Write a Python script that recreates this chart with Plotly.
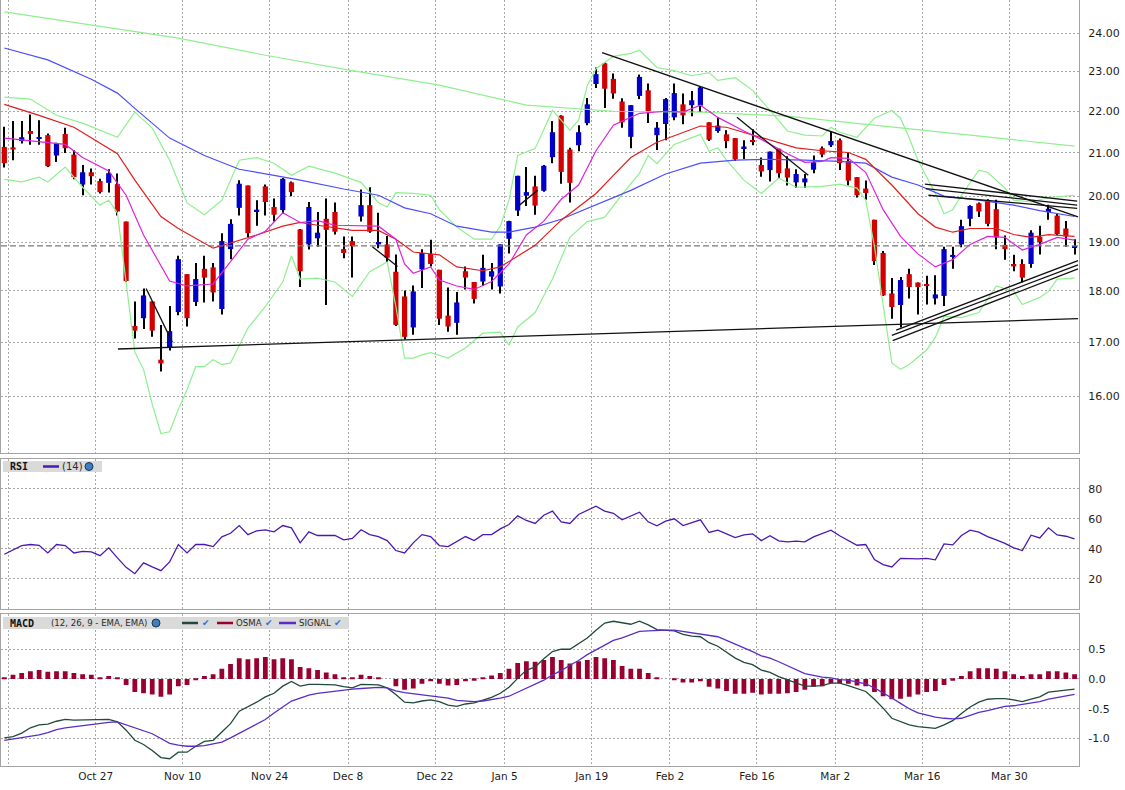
import math
import plotly.graph_objects as go

# ------------------------------------------------------------------ data
idx = list(range(124))

opens = [21.14, 21.13, 21.28, 21.52, 21.33, 21.42, 20.94, 21.45, 20.96, 20.27,
         20.55, 20.35, 20.31, 20.28, 19.45, 17.31, 17.46, 17.79, 16.67, 16.90,
         17.58, 18.34, 17.78, 18.45, 18.48, 17.64, 18.86, 19.75, 20.25, 19.67,
         20.23, 19.77, 19.70, 20.32, 19.28, 18.96, 19.09, 19.51, 19.66, 18.86,
         19.03, 19.56, 19.81, 18.96, 18.96, 18.39, 17.89, 17.28, 18.44, 18.76,
         18.43, 17.51, 17.37, 18.40, 18.18, 18.19, 18.29, 18.09, 19.08, 19.69,
         20.02, 20.23, 20.13, 20.90, 21.89, 21.08, 21.18, 21.71, 22.68, 23.21,
         22.81, 22.24, 21.38, 22.38, 22.52, 21.42, 21.69, 21.85, 22.17, 22.15,
         22.14, 21.73, 21.52, 21.44, 21.35, 21.11, 21.30, 20.72, 20.60, 21.10,
         20.64, 20.32, 20.32, 20.61, 21.11, 21.18, 21.30, 20.81, 20.44, 20.18,
         19.49, 18.78, 17.95, 17.72, 18.34, 18.17, 18.14, 17.85, 17.90, 18.70,
         18.96, 19.51, 19.85, 19.90, 19.72, 18.95, 18.55, 18.55, 18.55, 19.12,
         19.66, 19.58, 19.30, 18.89]
highs = [21.62, 21.76, 21.76, 21.92, 21.78, 21.46, 21.24, 21.60, 21.06, 20.72,
         20.64, 20.40, 20.62, 20.52, 19.45, 17.79, 18.05, 17.79, 17.33, 17.70,
         18.72, 18.34, 18.57, 18.72, 18.57, 19.20, 19.50, 20.37, 20.25, 19.92,
         20.27, 19.96, 20.42, 20.34, 19.29, 19.88, 19.66, 19.96, 19.87, 19.13,
         19.13, 20.16, 20.21, 19.64, 19.14, 18.75, 18.01, 18.11, 18.86, 19.06,
         18.43, 18.07, 17.98, 18.50, 18.18, 18.74, 18.57, 18.96, 19.47, 20.47,
         20.67, 20.47, 20.72, 21.76, 21.90, 21.12, 21.66, 22.33, 23.10, 23.23,
         22.95, 22.32, 22.15, 22.92, 22.69, 21.74, 22.33, 22.69, 22.44, 22.50,
         22.62, 21.73, 21.86, 21.54, 21.35, 21.30, 21.56, 20.89, 21.03, 21.10,
         20.92, 20.62, 20.51, 20.94, 21.15, 21.50, 21.34, 21.01, 20.44, 20.36,
         19.49, 18.82, 18.26, 18.28, 18.45, 18.17, 18.31, 18.32, 18.91, 18.91,
         19.49, 19.81, 19.87, 19.94, 19.93, 19.15, 18.74, 18.65, 19.26, 19.36,
         19.82, 19.62, 19.46, 19.07]
lows = [20.66, 20.83, 21.22, 21.19, 21.19, 20.67, 20.79, 21.00, 20.39, 20.03,
        20.27, 20.07, 20.09, 19.58, 18.18, 17.07, 17.25, 17.10, 16.45, 16.84,
        17.52, 17.30, 17.70, 17.77, 17.79, 17.53, 18.65, 19.58, 19.12, 19.36,
        19.58, 19.45, 19.62, 20.01, 18.08, 18.85, 18.91, 17.72, 19.17, 18.67,
        18.27, 19.45, 19.21, 18.88, 18.59, 17.31, 17.05, 17.14, 18.06, 18.50,
        17.33, 17.20, 17.14, 18.03, 17.75, 18.10, 18.03, 17.95, 18.77, 19.57,
        19.79, 19.60, 20.11, 20.76, 20.29, 19.87, 21.04, 21.66, 22.58, 22.08,
        22.31, 21.60, 21.11, 22.30, 21.71, 21.07, 21.30, 21.78, 21.68, 21.88,
        21.98, 21.28, 21.48, 21.11, 20.81, 20.86, 21.18, 20.45, 20.34, 20.40,
        20.25, 20.19, 20.19, 20.53, 20.90, 21.14, 20.60, 20.25, 19.98, 19.93,
        18.53, 17.90, 17.45, 17.28, 17.85, 17.53, 17.73, 17.73, 17.70, 18.45,
        18.90, 19.35, 19.55, 19.35, 18.86, 18.64, 18.40, 18.17, 18.47, 18.75,
        19.49, 19.16, 18.91, 18.75]
closes = [20.76, 21.08, 21.37, 21.45, 21.37, 20.69, 21.22, 21.11, 20.44, 20.55,
          20.46, 20.10, 20.53, 19.67, 18.20, 17.22, 17.91, 17.22, 16.60, 17.21,
          18.65, 17.46, 18.24, 18.27, 17.97, 19.03, 19.40, 20.29, 19.20, 19.71,
          19.88, 19.60, 20.40, 20.10, 18.40, 19.77, 19.21, 19.27, 19.23, 18.78,
          18.92, 19.81, 19.23, 19.01, 18.68, 17.33, 17.10, 17.99, 18.78, 18.55,
          17.45, 17.30, 17.77, 18.27, 17.84, 18.47, 18.40, 18.96, 19.46, 20.47,
          20.10, 19.80, 20.70, 21.49, 20.56, 20.31, 21.49, 22.17, 22.93, 22.56,
          22.44, 21.73, 22.15, 22.86, 21.98, 21.60, 22.30, 22.45, 21.90, 22.27,
          22.59, 21.31, 21.65, 21.28, 20.85, 21.15, 21.26, 20.57, 21.03, 20.53,
          20.43, 20.51, 20.41, 20.78, 20.96, 21.28, 20.76, 20.36, 20.03, 20.08,
          18.61, 17.91, 17.68, 18.22, 18.08, 18.08, 18.10, 17.93, 18.86, 18.74,
          19.35, 19.79, 19.67, 19.40, 19.11, 18.86, 18.50, 18.27, 19.21, 19.01,
          19.73, 19.18, 19.13, 18.92]

# moving averages / bands (readings at selected bars)
ma_blue_x = [0, 5, 10, 13, 15, 19, 23, 27, 31, 34, 39, 43, 46, 49, 52, 56, 58, 61, 64, 68,
             72, 76, 80, 84, 88, 92, 96, 99, 102, 105, 108, 112, 116, 119, 121, 123]
ma_blue_y = [23.61, 23.30, 22.80, 22.45, 22.07, 21.35, 20.94, 20.62, 20.48, 20.37, 20.17,
             20.03, 19.75, 19.62, 19.35, 19.22, 19.22, 19.33, 19.50, 19.82, 20.14, 20.51,
             20.76, 20.83, 20.85, 20.83, 20.80, 20.76, 20.44, 20.26, 20.01, 19.92, 19.81,
             19.69, 19.62, 19.56]

ma_red_x = [0, 4, 8, 11, 13, 15, 18, 20, 24, 26, 29, 32, 34, 36, 40, 43, 45, 47, 50, 52,
            55, 57, 59, 61, 64, 68, 70, 72, 75, 78, 80, 83, 87, 91, 94, 97, 99, 102, 105,
            107, 109, 111, 114, 116, 118, 120, 123]
ma_red_y = [22.17, 21.90, 21.61, 21.23, 20.98, 20.37, 19.56, 19.30, 18.88, 18.99, 19.16,
            19.35, 19.43, 19.37, 19.26, 19.26, 19.07, 18.80, 18.74, 18.49, 18.41, 18.49,
            18.72, 18.94, 19.48, 20.07, 20.48, 20.89, 21.25, 21.49, 21.64, 21.61, 21.37,
            21.12, 21.05, 21.01, 20.85, 20.26, 19.62, 19.33, 19.22, 19.30, 19.30, 19.17,
            19.11, 19.17, 19.13]

ma_mag_x = [0, 4, 7, 9, 12, 14, 16, 19, 21, 24, 26, 28, 30, 32, 34, 36, 38, 41, 43, 45,
            46, 47, 49, 50, 52, 54, 56, 58, 60, 62, 64, 66, 68, 70, 73, 76, 78, 80, 82, 85,
            87, 90, 92, 94, 95, 97, 99, 101, 103, 105, 107, 109, 111, 113, 115, 117, 119,
            121, 123]
ma_mag_y = [21.35, 21.27, 21.20, 20.89, 20.58, 20.03, 19.16, 18.20, 18.10, 18.14, 18.61,
            19.07, 19.24, 19.64, 19.43, 19.47, 19.37, 19.35, 19.35, 19.07, 18.55, 18.36,
            18.49, 18.22, 18.10, 18.03, 18.19, 18.55, 19.16, 19.46, 19.94, 20.26, 21.05,
            21.66, 21.95, 22.00, 21.98, 22.15, 21.85, 21.52, 21.32, 20.98, 20.78, 20.80,
            20.89, 20.87, 20.55, 19.71, 19.13, 18.76, 18.49, 18.64, 18.96, 19.13, 19.11,
            18.84, 18.96, 19.11, 19.05]

band_up_x = [0, 3, 6, 9, 13, 15, 17, 19, 21, 23, 25, 27, 29, 31, 33, 35, 38, 41, 43, 44,
             45, 47, 49, 50, 52, 54, 56, 57, 58, 59, 61, 62, 63, 65, 66, 67, 68, 70, 72, 73,
             75, 77, 79, 81, 82, 84, 86, 88, 90, 92, 94, 95, 96, 98, 100, 102, 103, 104,
             105, 107, 108, 109, 110, 112, 113, 115, 116, 118, 120, 123]
band_up_y = [22.35, 22.30, 21.90, 21.71, 21.37, 21.98, 21.59, 20.83, 19.86, 19.60, 19.92,
             20.83, 20.89, 20.76, 20.48, 20.69, 20.53, 20.32, 19.86, 19.77, 20.09, 20.07,
             20.03, 19.71, 19.33, 19.07, 19.07, 19.35, 19.92, 20.94, 21.10, 21.54, 22.02,
             21.54, 21.78, 22.64, 23.07, 23.39, 23.47, 23.55, 23.10, 23.02, 22.89, 22.97,
             22.77, 22.84, 22.52, 22.02, 21.52, 21.42, 21.40, 21.61, 21.49, 21.37, 21.83,
             22.02, 21.83, 21.35, 20.83, 20.07, 19.62, 19.71, 20.03, 20.60, 20.55, 20.19,
             19.92, 19.88, 19.98, 20.03]

band_lo_x = [0, 2, 4, 5, 7, 9, 11, 12, 13, 14, 15, 16, 17, 18, 19, 20, 21, 22, 23, 24,
             25, 26, 28, 30, 32, 33, 34, 36, 38, 40, 42, 44, 45, 46, 47, 48, 49, 51, 53, 55,
             57, 58, 59, 61, 63, 65, 67, 69, 71, 73, 74, 75, 77, 80, 81, 82, 83, 85, 87, 89,
             91, 94, 96, 98, 99, 100, 101, 102, 103, 104, 106, 107, 108, 110, 112, 114, 116,
             117, 119, 120, 121, 123]
band_lo_y = [20.39, 20.33, 20.44, 20.33, 20.67, 20.21, 19.81, 19.92, 19.64, 18.18, 16.81,
             16.49, 15.86, 15.35, 15.38, 15.77, 16.12, 16.54, 16.54, 16.67, 16.58, 16.61,
             17.27, 17.69, 18.18, 18.72, 18.24, 18.26, 18.18, 17.89, 18.39, 18.59, 17.69,
             16.70, 16.70, 16.76, 16.80, 16.70, 16.89, 17.17, 17.19, 16.94, 17.29, 17.57,
             18.24, 19.11, 19.45, 19.54, 20.05, 20.53, 20.94, 20.75, 21.20, 21.44, 21.04,
             21.12, 20.83, 20.37, 20.07, 20.42, 20.21, 20.23, 20.28, 20.19, 19.92, 18.92,
             17.69, 16.61, 16.49, 16.58, 16.85, 17.09, 17.50, 17.47, 17.57, 18.10, 17.99,
             17.73, 17.87, 17.99, 18.24, 18.26]

ma_long_x = [0, 10, 20, 30, 40, 50, 60, 70, 80, 90, 100, 110, 123]
ma_long_y = [24.58, 24.22, 23.87, 23.42, 23.02, 22.65, 22.15, 22.00, 21.98, 21.88, 21.66,
             21.45, 21.16]

# hand-drawn trend lines (start bar, end bar, start price, end price)
tl_x0 = [13.06, 16.3, 42.3, 59.2, 68.7, 84.2, 105.8, 105.9, 106.2, 102.5, 102.0, 102.1]
tl_x1 = [123.4, 19.3, 45.2, 61.3, 123.4, 92.4, 123.3, 123.3, 123.3, 123.4, 123.4, 123.4]
tl_p0 = [16.87, 18.05, 18.91, 19.81, 23.49, 21.85, 20.28, 20.18, 20.03, 17.23, 17.13, 17.03]
tl_p1 = [17.45, 17.00, 18.50, 20.14, 19.55, 20.48, 19.90, 19.81, 19.74, 18.62, 18.53, 18.45]

ref_price = 18.93

rsi = [36.4, 39.5, 42.2, 42.9, 42.4, 37.3, 42.9, 42.2, 37.3, 38.4,
       38.0, 35.5, 40.7, 34.0, 27.7, 23.5, 30.7, 28.0, 25.5, 31.3,
       42.9, 37.3, 42.9, 42.9, 41.5, 48.0, 50.4, 55.5, 49.5, 52.0,
       52.7, 51.3, 55.5, 54.0, 44.0, 51.3, 48.9, 48.9, 48.9, 46.0,
       46.9, 52.7, 49.5, 48.2, 45.5, 38.9, 37.3, 44.0, 49.5, 48.2,
       42.2, 41.5, 45.1, 48.2, 45.5, 49.5, 49.5, 53.3, 56.2, 62.0,
       58.9, 56.9, 62.4, 65.1, 58.0, 56.9, 62.9, 65.5, 68.4, 65.1,
       63.7, 59.3, 61.7, 64.4, 58.0, 55.3, 58.4, 60.0, 55.5, 57.3,
       59.3, 50.9, 52.4, 50.0, 47.5, 49.3, 50.0, 45.5, 48.7, 45.3,
       44.7, 45.1, 44.7, 48.0, 50.0, 52.4, 48.7, 45.5, 42.4, 42.9,
       32.9, 29.5, 28.0, 33.7, 33.3, 33.3, 33.7, 32.7, 43.3, 42.7,
       48.9, 52.4, 51.1, 48.2, 46.0, 43.7, 40.7, 38.9, 49.1, 47.3,
       54.0, 49.3, 48.4, 46.7]

osma = [0.03, 0.07, 0.10, 0.13, 0.15, 0.12, 0.13, 0.13, 0.10, 0.08,
        0.07, 0.03, 0.05, 0.02, -0.10, -0.22, -0.24, -0.26, -0.30, -0.26,
        -0.12, -0.10, -0.01, 0.05, 0.08, 0.17, 0.25, 0.35, 0.33, 0.35,
        0.37, 0.33, 0.35, 0.33, 0.20, 0.18, 0.15, 0.11, 0.08, 0.03,
        0.02, 0.07, 0.05, 0.03, 0.00, -0.12, -0.18, -0.16, -0.08, -0.04,
        -0.08, -0.11, -0.10, -0.04, -0.03, 0.02, 0.06, 0.10, 0.17, 0.27,
        0.30, 0.29, 0.32, 0.37, 0.32, 0.26, 0.30, 0.32, 0.37, 0.35,
        0.32, 0.22, 0.17, 0.17, 0.10, 0.02, 0.00, -0.01, -0.06, -0.06,
        -0.04, -0.13, -0.16, -0.20, -0.25, -0.25, -0.23, -0.26, -0.25, -0.25,
        -0.24, -0.22, -0.18, -0.13, -0.12, -0.07, -0.07, -0.08, -0.11, -0.12,
        -0.22, -0.29, -0.34, -0.33, -0.30, -0.26, -0.22, -0.20, -0.10, -0.03,
        0.05, 0.13, 0.18, 0.18, 0.17, 0.13, 0.08, 0.05, 0.08, 0.08,
        0.13, 0.13, 0.11, 0.08]

macd = [-0.99, -0.97, -0.91, -0.82, -0.77, -0.76, -0.71, -0.68, -0.69, -0.69,
        -0.68, -0.69, -0.68, -0.72, -0.86, -1.03, -1.10, -1.20, -1.32, -1.34,
        -1.23, -1.23, -1.13, -1.05, -1.03, -0.89, -0.75, -0.54, -0.47, -0.39,
        -0.30, -0.24, -0.12, -0.04, -0.12, -0.09, -0.09, -0.09, -0.10, -0.13,
        -0.15, -0.09, -0.09, -0.10, -0.15, -0.26, -0.39, -0.40, -0.37, -0.35,
        -0.38, -0.44, -0.46, -0.42, -0.40, -0.36, -0.31, -0.24, -0.14, 0.01,
        0.15, 0.20, 0.34, 0.46, 0.50, 0.50, 0.59, 0.69, 0.82, 0.94,
        0.97, 0.94, 0.92, 0.97, 0.91, 0.83, 0.82, 0.81, 0.75, 0.72,
        0.71, 0.61, 0.55, 0.45, 0.35, 0.28, 0.24, 0.15, 0.11, 0.04,
        -0.01, -0.06, -0.12, -0.12, -0.11, -0.07, -0.07, -0.11, -0.16, -0.21,
        -0.34, -0.49, -0.66, -0.72, -0.77, -0.80, -0.82, -0.83, -0.77, -0.70,
        -0.58, -0.47, -0.39, -0.34, -0.33, -0.33, -0.35, -0.38, -0.34, -0.30,
        -0.22, -0.20, -0.18, -0.17]

signal = [-1.03, -1.01, -0.99, -0.96, -0.94, -0.90, -0.85, -0.82, -0.80, -0.78,
          -0.77, -0.75, -0.73, -0.72, -0.77, -0.81, -0.87, -0.92, -1.00, -1.08,
          -1.11, -1.13, -1.13, -1.12, -1.09, -1.06, -0.99, -0.91, -0.83, -0.76,
          -0.68, -0.57, -0.47, -0.37, -0.32, -0.27, -0.24, -0.22, -0.20, -0.18,
          -0.17, -0.16, -0.15, -0.14, -0.15, -0.20, -0.23, -0.25, -0.27, -0.29,
          -0.30, -0.32, -0.36, -0.37, -0.38, -0.37, -0.35, -0.32, -0.29, -0.22,
          -0.15, -0.08, -0.02, 0.07, 0.14, 0.23, 0.31, 0.41, 0.49, 0.58,
          0.65, 0.69, 0.74, 0.80, 0.81, 0.82, 0.82, 0.82, 0.80, 0.78,
          0.76, 0.73, 0.71, 0.65, 0.59, 0.53, 0.46, 0.39, 0.35, 0.29,
          0.22, 0.16, 0.09, 0.06, 0.03, 0.02, -0.01, -0.02, -0.05, -0.08,
          -0.15, -0.23, -0.32, -0.41, -0.50, -0.57, -0.61, -0.64, -0.66, -0.67,
          -0.66, -0.61, -0.56, -0.53, -0.49, -0.46, -0.45, -0.43, -0.40, -0.38,
          -0.34, -0.31, -0.29, -0.26]

tick_pos = [0.5, 10.5, 20.5, 30.5, 39.5, 49.5, 57.5, 67.5, 76.5, 86.5, 95.5, 105.5, 115.5]
tick_lab = ["", "Oct 27", "Nov 10", "Nov 24", "Dec 8", "Dec 22", "Jan 5", "Jan 19",
            "Feb 2", "Feb 16", "Mar 2", "Mar 16", "Mar 30"]
price_ticks = [16, 17, 18, 19, 20, 21, 22, 23, 24]
rsi_ticks = [20, 40, 60, 80]
macd_ticks = [-1.0, -0.5, 0.0, 0.5]

# ------------------------------------------------------------------ style
C_UP = "#0000c8"
C_DN = "#d20000"
C_BLUE = "#4d4dff"
C_RED = "#e21d1d"
C_MAG = "#dd22dd"
C_GRN = "#8ef08e"
C_RSI = "#4b18b0"
C_MACD = "#1f4a3c"
C_OSMA = "#990030"
C_SIG = "#5a2dc8"
GRID = "#a8a8a8"
FRAME = "#a4a4a4"

W, H = 1125, 790
ML, MR, MT, MB = 1, 46, 0, 24
PW, PH = W - ML - MR, H - MT - MB


def pxx(v):
    return (v - ML) / PW


def pxy(v):
    return (PH - (v - MT)) / PH


XR = [-0.38, 123.51]

fig = go.Figure()

# candles: wicks then bodies
fig.add_trace(go.Bar(x=idx, y=[h - l for h, l in zip(highs, lows)], base=lows, width=0.12,
                     marker=dict(color="#000000", line=dict(width=0)),
                     xaxis="x", yaxis="y", hoverinfo="skip", showlegend=False))
up_i = [i for i in idx if closes[i] >= opens[i]]
dn_i = [i for i in idx if closes[i] < opens[i]]
fig.add_trace(go.Bar(x=up_i, y=[closes[i] - opens[i] for i in up_i], base=[opens[i] for i in up_i],
                     width=0.6, marker=dict(color=C_UP, line=dict(width=0)),
                     xaxis="x", yaxis="y", hoverinfo="skip", showlegend=False))
fig.add_trace(go.Bar(x=dn_i, y=[opens[i] - closes[i] for i in dn_i], base=[closes[i] for i in dn_i],
                     width=0.6, marker=dict(color=C_DN, line=dict(width=0)),
                     xaxis="x", yaxis="y", hoverinfo="skip", showlegend=False))


def line(xs, ys, color, width=1.2, ax="", dash=None):
    fig.add_trace(go.Scatter(x=xs, y=ys, mode="lines",
                             line=dict(color=color, width=width, dash=dash),
                             xaxis="x" + ax, yaxis="y" + ax, hoverinfo="skip",
                             showlegend=False))


line(XR, [ref_price, ref_price], "#7a7a7a", 1.2, dash="6px,3px")
line(ma_long_x, ma_long_y, C_GRN, 1.2)
line(band_up_x, band_up_y, C_GRN, 1.2)
line(band_lo_x, band_lo_y, C_GRN, 1.2)
line(ma_blue_x, ma_blue_y, C_BLUE, 1.2)
line(ma_red_x, ma_red_y, C_RED, 1.2)
line(ma_mag_x, ma_mag_y, C_MAG, 1.2)
for a, b, p, q in zip(tl_x0, tl_x1, tl_p0, tl_p1):
    line([a, b], [p, q], "#111111", 1.3)

# RSI
line(idx, rsi, C_RSI, 1.3, ax="2")

# MACD
fig.add_trace(go.Bar(x=idx, y=osma, width=0.55, marker=dict(color=C_OSMA, line=dict(width=0)),
                     xaxis="x3", yaxis="y3", hoverinfo="skip", showlegend=False))
line(idx, macd, C_MACD, 1.3, ax="3")
line(idx, signal, C_SIG, 1.3, ax="3")

# ------------------------------------------------------------------ axes
tickfont = dict(family="DejaVu Sans", size=11, color="#1e1e1e")
xcommon = dict(range=XR, tickmode="array", tickvals=tick_pos, ticktext=tick_lab,
               showgrid=True, gridcolor=GRID, griddash="2px,2px", gridwidth=1,
               zeroline=False, showline=True, linecolor=FRAME, linewidth=1,
               ticks="", fixedrange=True)
ycommon = dict(side="right", showgrid=True, gridcolor=GRID, griddash="2px,2px", gridwidth=1,
               zeroline=False, showline=True, linecolor=FRAME, linewidth=1, mirror=True,
               ticks="outside", ticklen=6, tickcolor="rgba(0,0,0,0)", tickfont=tickfont,
               fixedrange=True)

main_dom = [pxy(453), 1.0]
rsi_dom = [pxy(609), pxy(458.7)]
macd_dom = [0.0, pxy(614.3)]

fig.update_layout(
    width=W, height=H,
    margin=dict(l=ML, r=MR, t=MT, b=MB, pad=0),
    paper_bgcolor="white", plot_bgcolor="white",
    barmode="overlay", showlegend=False,
    xaxis=dict(xcommon, domain=[0, 1], anchor="y", showticklabels=False),
    xaxis2=dict(xcommon, domain=[0, 1], anchor="y2", showticklabels=False, mirror=True, matches="x"),
    xaxis3=dict(xcommon, domain=[0, 1], anchor="y3", showticklabels=True, mirror=True, matches="x",
                tickfont=dict(family="DejaVu Sans", size=10.5, color="#1e1e1e")),
    yaxis=dict(ycommon, domain=main_dom, anchor="x", type="log",
               range=[math.log10(15.02), math.log10(24.91)],
               tickmode="array", tickvals=price_ticks,
               ticktext=["%.2f" % v for v in price_ticks]),
    yaxis2=dict(ycommon, domain=rsi_dom, anchor="x2", range=[0, 100],
                tickmode="array", tickvals=rsi_ticks, ticktext=[str(v) for v in rsi_ticks]),
    yaxis3=dict(ycommon, domain=macd_dom, anchor="x3", range=[-1.462, 1.087],
                tickmode="array", tickvals=macd_ticks, ticktext=["%.1f" % v for v in macd_ticks]),
)

# ------------------------------------------------------------------ indicator headers
shapes = []
annos = []


def rect(x0, x1, y0, y1, fill):
    shapes.append(dict(type="rect", xref="paper", yref="paper", x0=pxx(x0), x1=pxx(x1),
                       y0=pxy(y1), y1=pxy(y0), fillcolor=fill, line=dict(width=0), layer="above"))


def sample(x0, x1, y, color):
    shapes.append(dict(type="line", xref="paper", yref="paper", x0=pxx(x0), x1=pxx(x1),
                       y0=pxy(y), y1=pxy(y), line=dict(color=color, width=2.5), layer="above"))


def globe(x, y):
    shapes.append(dict(type="circle", xref="paper", yref="paper", x0=pxx(x - 4), x1=pxx(x + 4),
                       y0=pxy(y + 4), y1=pxy(y - 4), fillcolor="#3f7fbf",
                       line=dict(color="#1c3550", width=1), layer="above"))


def text(x, y, s, size=10, family="DejaVu Sans", color="#2a2a2a"):
    annos.append(dict(xref="paper", yref="paper", x=pxx(x), y=pxy(y), text=s, showarrow=False,
                      xanchor="left", yanchor="middle", borderpad=0,
                      font=dict(family=family, size=size, color=color)))


# RSI header
rect(3, 102, 461, 472, "#dadada")
text(9, 466.5, "<b>RSI</b>", 10, "DejaVu Sans Mono", "#111111")
sample(43, 59, 466.5, C_RSI)
text(61, 466.5, "(14)", 10)
globe(89, 466.5)

# MACD header
rect(3, 349, 617, 629, "#dadada")
text(9, 623, "<b>MACD</b>", 10, "DejaVu Sans Mono", "#111111")
text(50, 623, "(12, 26, 9 - EMA, EMA)", 8.6)
globe(156, 623)
sample(182, 198, 623, C_MACD)
text(201, 623, "✔", 9, color="#2a6fd6")
sample(217, 233, 623, C_OSMA)
text(235, 623, "OSMA", 8.6)
text(264, 623, "✔", 9, color="#2a6fd6")
sample(279, 296, 623, C_SIG)
text(298, 623, "SIGNAL", 8.6)
text(333, 623, "✔", 9, color="#2a6fd6")

fig.update_layout(shapes=shapes, annotations=annos)

fig.write_html("out.html", config={"displayModeBar": False},
               post_script="document.body.style.margin='0';document.body.style.padding='0';")
